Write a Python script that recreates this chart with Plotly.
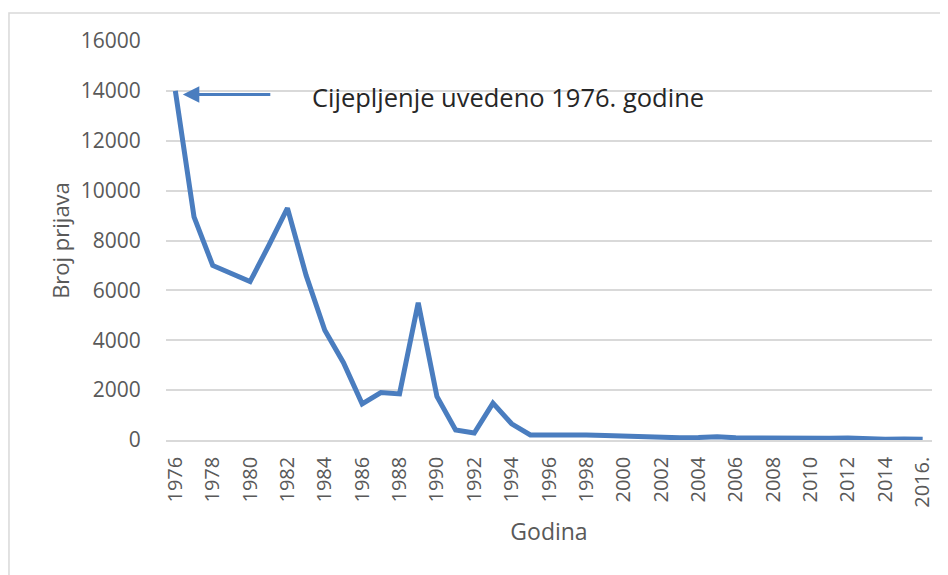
import plotly.graph_objects as go

years = [str(y) for y in range(1976, 2016)] + ["2016."]
cases = [14000, 8950, 7000, 6650, 6350, 7800, 9300, 6600, 4400, 3100,
         1450, 1900, 1850, 5500, 1750, 400, 280, 1480, 650, 200,
         200, 250, 200, 180, 150, 130, 90, 90, 100, 130,
         90, 80, 80, 50, 40, 70, 80, 40, 30, 40, 30]
tick_labels = years[::2]
y_ticks = [0, 2000, 4000, 6000, 8000, 10000, 12000, 14000, 16000]
y_tick_text = [str(v) for v in y_ticks]

annot_text = "Cijepljenje uvedeno 1976. godine"
x_title = "Godina"
y_title = "Broj prijava"

blue = "#4a7dbf"
grey_text = "#595959"
grid = "#d9d9d9"
font_family = "Open Sans, Liberation Sans, sans-serif"

fig = go.Figure()
fig.add_trace(go.Scatter(x=years, y=cases, mode="lines",
                         line=dict(color=blue, width=5), hoverinfo="x+y"))

fig.update_layout(
    width=948, height=575,
    margin=dict(l=158, r=24, t=33, b=143),
    paper_bgcolor="white", plot_bgcolor="white",
    showlegend=False,
    font=dict(family=font_family, color=grey_text),
    xaxis=dict(
        type="category", categoryorder="array", categoryarray=years,
        range=[-0.5, len(years) - 0.5],
        tickmode="array", tickvals=tick_labels, ticktext=tick_labels,
        tickangle=-90, tickfont=dict(size=20, color=grey_text),
        ticks="outside", ticklen=7, tickcolor="white",
        showgrid=False, showline=True, linecolor=grid, linewidth=1.5,
        title=dict(text=x_title, font=dict(size=23, color=grey_text), standoff=17),
        automargin=False,
    ),
    yaxis=dict(
        range=[0, 16000], tickmode="array", tickvals=y_ticks, ticktext=y_tick_text,
        tickfont=dict(size=21, color=grey_text),
        ticks="outside", ticklen=20, tickcolor="white",
        showgrid=True, gridcolor=grid, gridwidth=1.5,
        zeroline=False, showline=False,
        title=dict(text=y_title, font=dict(size=22, color=grey_text), standoff=5),
        automargin=False,
    ),
    shapes=[dict(type="rect", xref="paper", yref="paper",
                 x0=-0.205, x1=1.2, y0=-0.6, y1=1.07,
                 line=dict(color=grid, width=1.5), layer="below")],
    annotations=[
        dict(x=0.4, y=13850, xref="x", yref="y", text="", showarrow=True,
             ax=89, ay=0, axref="pixel", ayref="pixel",
             arrowhead=2, arrowsize=1.1, arrowwidth=3, arrowcolor=blue),
        dict(x=0.188, y=0.8596, xref="paper", yref="paper", text=annot_text,
             showarrow=False, xanchor="left", yanchor="middle",
             font=dict(size=25.5, color="#262626", family=font_family)),
    ],
)

fig.write_html("out.html")
